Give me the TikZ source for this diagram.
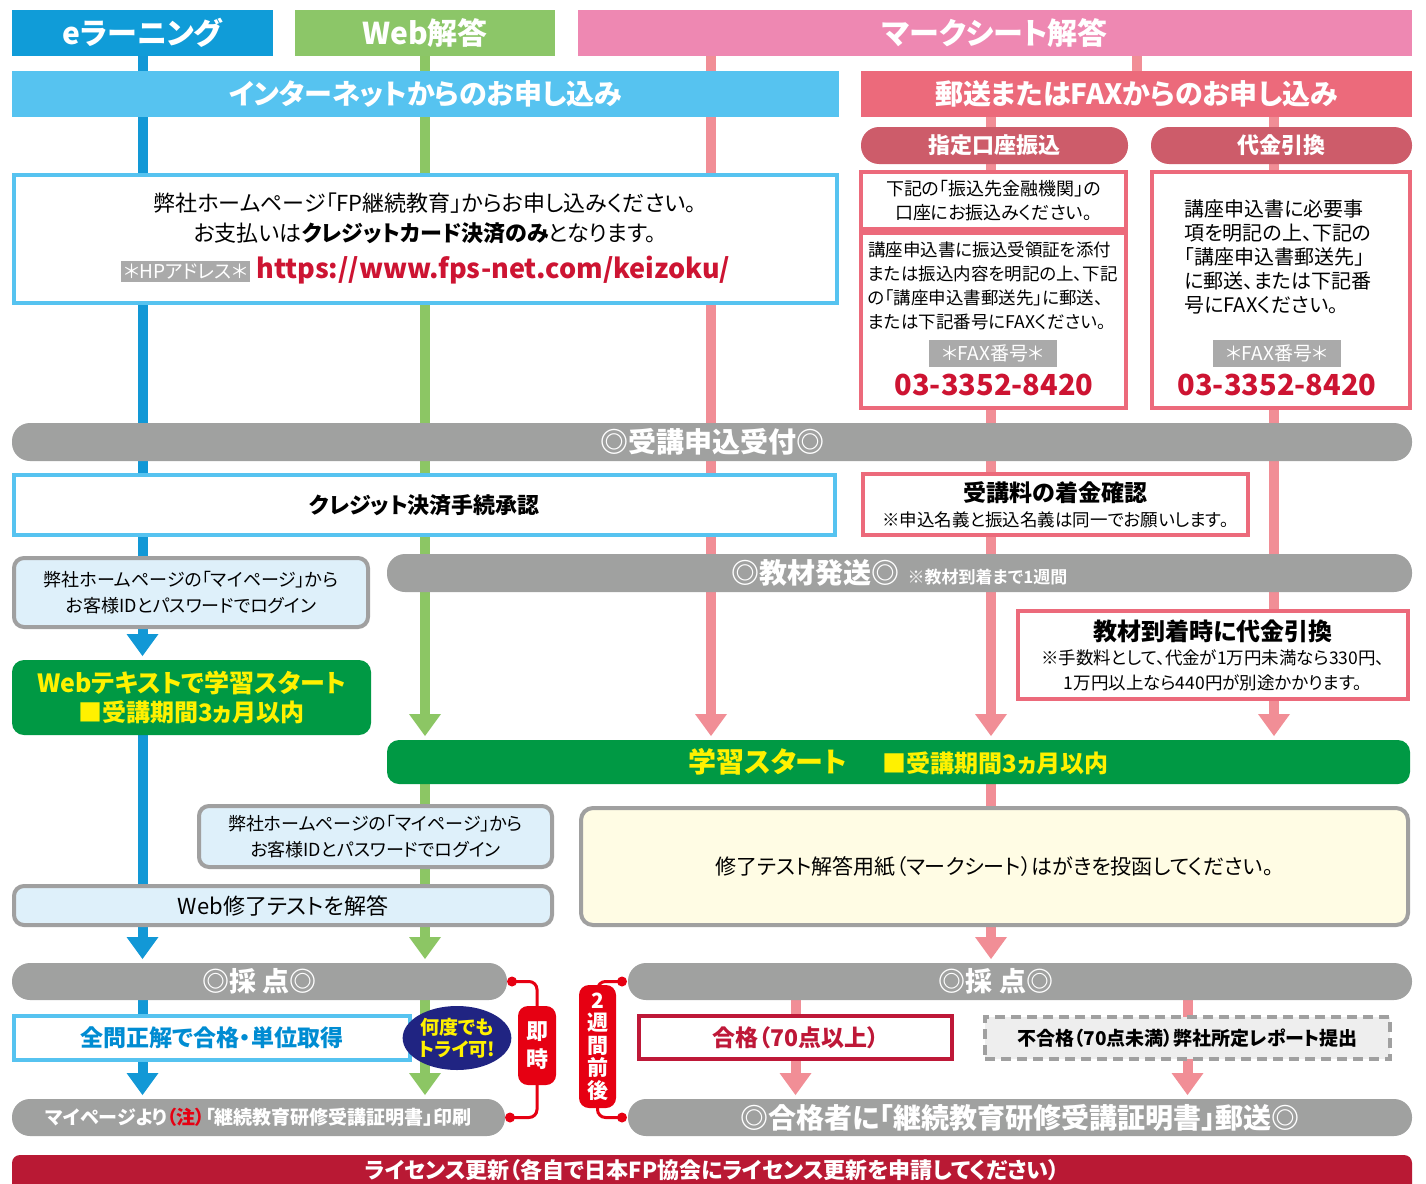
\documentclass[tikz,border=0pt]{standalone}
\usepackage{fontspec}
\setmainfont{Noto Sans CJK JP}[RawFeature=+palt]
\newfontfamily\jpblack{Noto Sans CJK JP Black}[RawFeature=+palt]
\usetikzlibrary{arrows.meta, shapes.geometric, backgrounds}

\definecolor{elearnc}{RGB}{16,156,216}
\definecolor{webc}{RGB}{140,198,104}
\definecolor{markc}{RGB}{238,136,178}
\definecolor{netc}{RGB}{86,195,240}
\definecolor{mailc}{RGB}{236,106,123}
\definecolor{pillc}{RGB}{205,92,106}
\definecolor{laneb}{RGB}{18,152,214}
\definecolor{laneg}{RGB}{140,198,100}
\definecolor{lanep}{RGB}{241,142,150}
\definecolor{barc}{RGB}{160,161,160}
\definecolor{startc}{RGB}{0,153,68}
\definecolor{yellowt}{RGB}{255,241,0}
\definecolor{loginf}{RGB}{222,240,250}
\definecolor{loginc}{RGB}{160,160,160}
\definecolor{markf}{RGB}{255,252,228}
\definecolor{passc}{RGB}{190,24,56}
\definecolor{redc}{RGB}{230,0,18}
\definecolor{navyc}{RGB}{32,36,130}
\definecolor{licc}{RGB}{185,25,52}
\definecolor{urlc}{RGB}{205,20,50}
\definecolor{bluet}{RGB}{0,140,210}
\definecolor{hpc}{RGB}{170,170,170}
\definecolor{failf}{RGB}{238,238,238}

\newcommand{\jfs}[2]{\fontsize{#1}{#2}\selectfont}
\setlength{\fboxsep}{3pt}

\begin{document}
\begin{tikzpicture}[x=1pt, y=-1pt, >={Triangle[width=32pt,length=22pt,line width=0pt]},
    every node/.style={inner sep=0pt, outer sep=0pt},
    hdr/.style={rectangle, fill=#1, minimum height=46pt, text=white, font={\jfs{30}{36}\jpblack}},
    pillhd/.style={rectangle, rounded corners=18pt, fill=pillc, minimum height=37pt, text=white, font={\jfs{22}{26}\jpblack}},
    outline/.style={rectangle, draw=#1, line width=4pt, fill=white},
    graybar/.style={rectangle, rounded corners=18pt, fill=barc, minimum height=37pt, text=white, font={\jfs{28}{32}\jpblack}},
    loginbox/.style={rectangle, rounded corners=10pt, draw=loginc, line width=4pt, fill=loginf, align=center},
    greenbox/.style={rectangle, rounded corners=12pt, fill=startc, text=yellowt, align=center},
    redpill/.style={rectangle, rounded corners=10pt, fill=redc, text=white, minimum width=38pt, align=center},
    faxlbl/.style={rectangle, fill=hpc, text=white, minimum width=128pt, minimum height=27pt, font={\jfs{19}{22}}},
    faxnum/.style={text=urlc, font={\jfs{29}{32}\bfseries}},
    lnblue/.style={color=laneb, line width=10pt},
    lngreen/.style={color=laneg, line width=10pt},
    lnpink/.style={color=lanep, line width=10pt},
    flow/.style={->, shorten >=4pt},
    brk/.style={draw=redc, line width=3pt, rounded corners=8pt}]

    \useasboundingbox (0,0) rectangle (1426,1183);

    % top headers
    \node[hdr=elearnc, minimum width=261pt] (elearn) at (142.5,33) {eラーニング};
    \node[hdr=webc, minimum width=260pt] (web) at (425,33) {Web解答};
    \node[hdr=markc, minimum width=834pt] (mark) at (995,33) {マークシート解答};
    \node[hdr=netc, minimum width=827pt, font={\jfs{28}{32}\jpblack}] (net) at (425.5,94) {インターネットからのお申し込み};
    \node[hdr=mailc, minimum width=551pt, font={\jfs{28}{32}\jpblack}] (mail) at (1136.5,94) {郵送またはFAXからのお申し込み};
    \node[pillhd, minimum width=267pt] (furi) at (994.5,145.5) {指定口座振込};
    \node[pillhd, minimum width=261pt] (daibiki) at (1281.5,145.5) {代金引換};

    % internet
    \node[outline=netc, minimum width=823pt, minimum height=128pt] (netbox) at (425.5,239) {};
    \node[font={\jfs{22}{26}}] (netl1) at (425,203) {弊社ホームページ「FP継続教育」からお申し込みください。};
    \node[font={\jfs{22}{26}}] (netl2) at (425,233) {お支払いは\textbf{クレジットカード決済のみ}となります。};
    \node (netl3) at (425.5,270) {\colorbox{hpc}{\color{white}\jfs{19}{22}＊HPアドレス＊}\hspace{6pt}{\color{urlc}\jfs{27}{30}\bfseries https://www.fps-net.com/keizoku/}};

    % mail / fax
    \node[outline=mailc, minimum width=265pt, minimum height=57pt, align=center, font={\jfs{18}{24}}] (furitop) at (993.5,200.5) {下記の「振込先金融機関」の\\口座にお振込みください。};
    \node[outline=mailc, minimum width=265pt, minimum height=175pt] (furibot) at (993.5,320.5) {};
    \node[align=left, font={\jfs{17.5}{24}}] (furitxt) at (993,286) {講座申込書に振込受領証を添付\\または振込内容を明記の上、下記\\の「講座申込書郵送先」に郵送、\\または下記番号にFAXください。};
    \node[faxlbl] (faxl1) at (993,353.5) {＊FAX番号＊};
    \node[faxnum] (faxn1) at (994,385) {03-3352-8420};
    \node[outline=mailc, minimum width=258pt, minimum height=236pt] (daibox) at (1281,290) {};
    \node[align=left, font={\jfs{20}{24}}] (daitxt) at (1278,257) {講座申込書に必要事\\項を明記の上、下記の\\「講座申込書郵送先」\\に郵送、または下記番\\号にFAXください。};
    \node[faxlbl] (faxl2) at (1277,353.5) {＊FAX番号＊};
    \node[faxnum] (faxn2) at (1277,385) {03-3352-8420};

    % middle
    \node[graybar, minimum width=1400pt, minimum height=38pt] (uketsuke) at (712,442) {◎受講申込受付◎};
    \node[outline=netc, minimum width=821pt, minimum height=60pt, font={\jfs{22}{26}\bfseries}] (credit) at (424.5,505) {クレジット決済手続承認};
    \node[outline=mailc, minimum width=385pt, minimum height=61pt, align=center, font={\jfs{17.5}{25}}] (chakkin) at (1055.5,504.5) {{\jfs{23}{25}\bfseries 受講料の着金確認}\\※申込名義と振込名義は同一でお願いします。};
    \node[graybar, minimum width=1025pt, minimum height=38pt] (kyozai) at (899.5,573) {◎教材発送◎\hspace{8pt}{\jfs{17}{20}\bfseries ※教材到着まで1週間}};
    \node[loginbox, minimum width=354pt, minimum height=69pt, font={\jfs{18}{26}}] (login1) at (191,592.5) {弊社ホームページの「マイページ」から\\お客様IDとパスワードでログイン};
    \node[greenbox, minimum width=359pt, minimum height=75pt, font={\jfs{24}{29}\jpblack}] (webtext) at (191.5,697.5) {{\jfs{25}{29}\jpblack Webテキストで学習スタート}\\■受講期間3ヵ月以内};
    \node[outline=mailc, minimum width=390pt, minimum height=88pt, align=center, font={\jfs{17.5}{24.5}}] (arrive) at (1213,655) {{\jfs{24}{26}\bfseries 教材到着時に代金引換}\\※手数料として、代金が1万円未満なら330円、\\1万円以上なら440円が別途かかります。};
    \node[greenbox, minimum width=1023pt, minimum height=44pt, font={\jfs{28}{32}\jpblack}] (start) at (898.5,762) {学習スタート\hspace{36pt}{\jfs{24}{28}■受講期間3ヵ月以内}};

    % tests
    \node[loginbox, minimum width=353pt, minimum height=61pt, font={\jfs{18}{26}}] (login2) at (375.5,836.5) {弊社ホームページの「マイページ」から\\お客様IDとパスワードでログイン};
    \node[loginbox, fill=markf, rounded corners=12pt, minimum width=827pt, minimum height=117pt, font={\jfs{21}{26}}] (sheet) at (994.5,866.5) {修了テスト解答用紙（マークシート）はがきを投函してください。};
    \node[loginbox, minimum width=538pt, minimum height=39pt, font={\jfs{22}{26}}] (webtest) at (283,905.5) {Web修了テストを解答};

    % results
    \node[graybar, minimum width=495pt, font={\jfs{27}{30}\jpblack}] (saitenl) at (259.5,981.5) {◎採 点◎};
    \node[graybar, minimum width=784pt] (saitenr) at (1020,981.5) {};
    \node[text=white, font={\jfs{27}{30}\jpblack}] (saitenrt) at (996,981.5) {◎採 点◎};
    \node[outline=netc, minimum width=396pt, minimum height=44pt, text=bluet, font={\jfs{23}{26}\jpblack}] (zenmon) at (212,1038) {全問正解で合格・単位取得};
    \node[ellipse, fill=navyc, minimum width=96pt, minimum height=64pt, align=center, text=yellowt, font={\jfs{19}{22}\jpblack}] (retry) at (457,1038) {何度でも\\トライ可!};
    \node[graybar, minimum width=493pt, font={\jfs{19}{22}\jpblack}] (mypage) at (258.5,1117.5) {マイページより{\color{redc}（注）}「継続教育研修受講証明書」印刷};
    \node[redpill, minimum height=79pt, font={\jfs{22}{28}\jpblack}] (sokuji) at (537,1045.5) {即\\時};
    \node[redpill, minimum width=37pt, minimum height=123pt, font={\jfs{21}{22.5}\jpblack}] (nishu) at (597.5,1046.5) {2\\週\\間\\前\\後};
    \node[outline=passc, minimum width=313pt, minimum height=43pt, text=passc, font={\jfs{23}{26}\jpblack}] (pass) at (795.5,1037.5) {合格（70点以上）};
    \node[rectangle, draw=loginc, line width=4pt, dash pattern=on 10pt off 6pt, fill=failf, minimum width=405pt, minimum height=42pt, font={\jfs{19}{22}\jpblack}] (fail) at (1187.5,1038) {不合格（70点未満）弊社所定レポート提出};
    \node[graybar, minimum width=784pt] (shosho) at (1020,1117.5) {◎合格者に「継続教育研修受講証明書」郵送◎};
    \node[rectangle, rounded corners=8pt, fill=licc, minimum width=1400pt, minimum height=44pt] (license) at (712,1177) {};
    \node[text=white, font={\jfs{22}{26}\jpblack}] (licensetxt) at (712,1170) {ライセンス更新（各自で日本FP協会にライセンス更新を申請してください）};

    % brackets
    \coordinate (ja) at ([xshift=5pt]saitenl.east);
    \coordinate (jb) at ([xshift=5pt]mypage.east);
    \coordinate (ka) at ([xshift=-6pt]saitenr.west);
    \coordinate (kb) at ([xshift=-6pt]shosho.west);
    \draw[brk] (ja) -| (sokuji.north);
    \draw[brk] (jb) -| (sokuji.south);
    \draw[brk] (ka) -| (nishu.north);
    \draw[brk] (kb) -| (nishu.south);
    \foreach \d in {ja,jb,ka,kb}
        \fill[redc] (\d) circle (5pt);

    % lanes
    \coordinate (pa) at (711,56);
    \coordinate (pb) at (991,117);
    \coordinate (pc) at (1274,117);
    \begin{scope}[on background layer]
    \fill[white] (0,0) rectangle (1426,1183);
    \path[lnblue]
    (elearn.south) edge[flow] (elearn.south |- webtext.north)
    (webtext.south -| elearn.south) edge[flow] (elearn.south |- saitenl.north)
    (saitenl.south -| elearn.south) edge[flow] (elearn.south |- mypage.north);
    \path[lngreen]
    (web.south) edge[flow] (web.south |- start.north)
    (start.south -| web.south) edge[flow] (web.south |- saitenl.north)
    (saitenl.south -| web.south) edge[flow] (web.south |- mypage.north);
    \path[lnpink]
    (pa) edge[flow] (pa |- start.north)
    (mark.south -| mail.north) edge (mail.north)
    (pb) edge[flow] (pb |- start.north)
    (start.south -| pb) edge[flow] (pb |- saitenr.north)
    (pc) edge[flow] (pc |- start.north)
    (saitenr.south -| pass.north) edge (pass.north)
    (pass.south) edge[flow] (pass.south |- shosho.north)
    (saitenr.south -| fail.north) edge (fail.north)
    (fail.south) edge[flow] (fail.south |- shosho.north);
    \end{scope}
\end{tikzpicture}
\end{document}
